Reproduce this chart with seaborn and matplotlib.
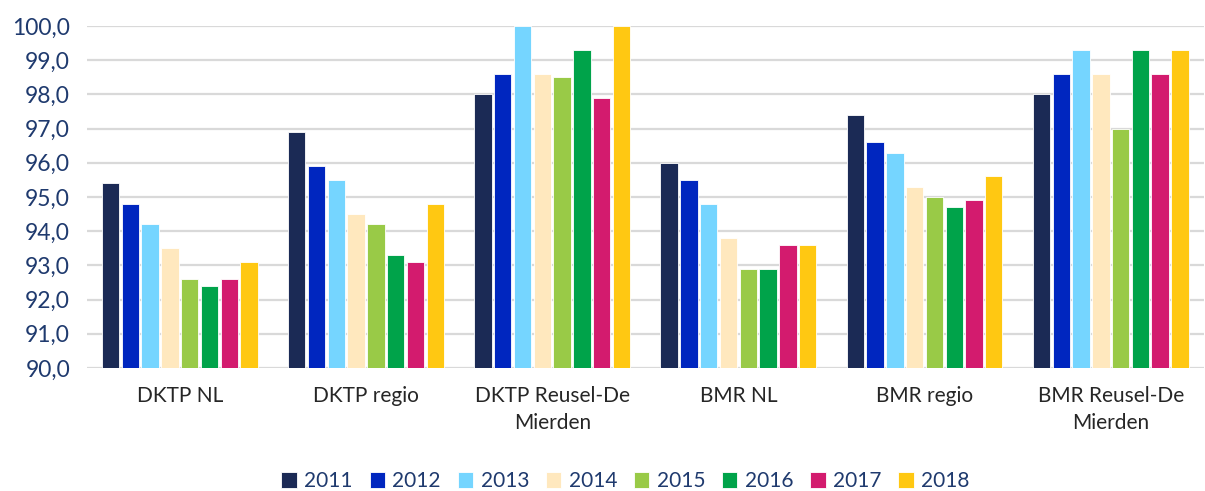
import matplotlib
matplotlib.use("Agg")
import matplotlib.pyplot as plt
import pandas as pd
import seaborn as sns

categories = ["DKTP NL", "DKTP regio", "DKTP Reusel-De\nMierden",
              "BMR NL", "BMR regio", "BMR Reusel-De\nMierden"]
years = ["2011", "2012", "2013", "2014", "2015", "2016", "2017", "2018"]

v2011 = [95.4, 96.9, 98.0, 96.0, 97.4, 98.0]
v2012 = [94.8, 95.9, 98.6, 95.5, 96.6, 98.6]
v2013 = [94.2, 95.5, 100.0, 94.8, 96.3, 99.3]
v2014 = [93.5, 94.5, 98.6, 93.8, 95.3, 98.6]
v2015 = [92.6, 94.2, 98.5, 92.9, 95.0, 97.0]
v2016 = [92.4, 93.3, 99.3, 92.9, 94.7, 99.3]
v2017 = [92.6, 93.1, 97.9, 93.6, 94.9, 98.6]
v2018 = [93.1, 94.8, 100.0, 93.6, 95.6, 99.3]

colors = ["#1B2A55", "#0026BF", "#75D5FF", "#FFE8BE",
          "#99CA47", "#00A34A", "#D31B6E", "#FFC812"]

series = [v2011, v2012, v2013, v2014, v2015, v2016, v2017, v2018]
rows = []
for year, vals in zip(years, series):
    for cat, v in zip(categories, vals):
        rows.append({"cat": cat, "year": year, "value": v})
df = pd.DataFrame(rows)

sns.set_style("white")
plt.rcParams["font.family"] = ["Lato", "DejaVu Sans"]

fig = plt.figure(figsize=(12.05, 4.91), dpi=100)
ax = fig.add_axes([0.072, 0.2505, 0.927, 0.6965])

sns.barplot(data=df, x="cat", y="value", hue="year", order=categories,
            hue_order=years, palette=colors, saturation=1, width=0.85, gap=0.12,
            edgecolor="white", linewidth=0.6, ax=ax, legend=True)

ax.set_ylim(90, 100)
ax.set_yticks([90 + i for i in range(11)])
ax.set_yticklabels([f"{90 + i},0" for i in range(11)], color="#1F3A6E", fontsize=16.5)
ax.tick_params(axis="x", labelsize=15, labelcolor="#262626", pad=13, length=0)
ax.tick_params(axis="y", length=0, pad=12)
for lbl in ax.get_xticklabels():
    lbl.set_linespacing(1.45)
ax.set_xlabel("")
ax.set_ylabel("")
ax.grid(axis="y", color="#D9D9D9", linewidth=1.6)
ax.set_axisbelow(True)
for s in ax.spines.values():
    s.set_visible(False)

handles, labels = ax.get_legend_handles_labels()
ax.get_legend().remove()
leg = fig.legend(handles, labels, loc="center", bbox_to_anchor=(0.519, 0.02),
                 ncol=8, frameon=False, fontsize=15, handlelength=0.75,
                 handleheight=0.75, handletextpad=0.35, columnspacing=0.8)
for t in leg.get_texts():
    t.set_color("#1F3A6E")

fig.savefig("out.png", dpi=100)
